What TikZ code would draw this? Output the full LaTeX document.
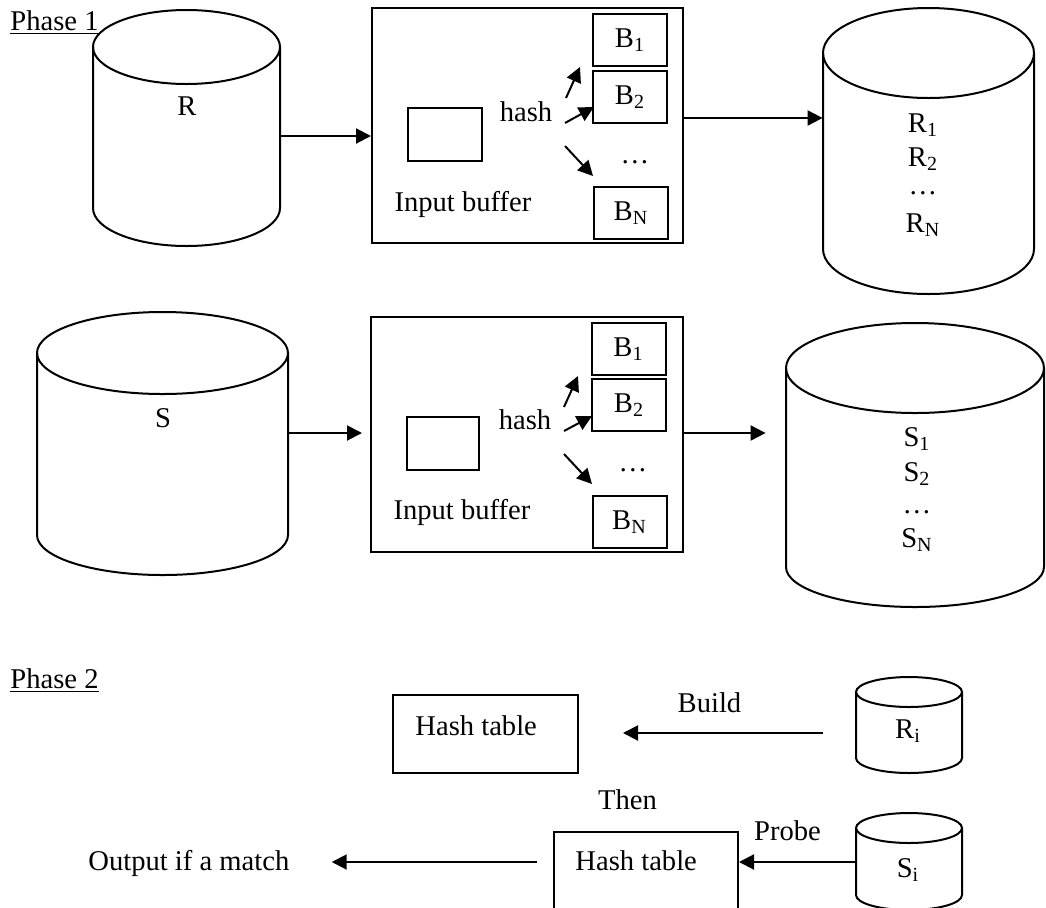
\documentclass[tikz,border=0pt]{standalone}
\usepackage{fontspec}
\setmainfont{Liberation Serif}
\usetikzlibrary{arrows.meta}
% #1 name, #2 cx, #3 top-ellipse centre y, #4 bottom-ellipse centre y, #5 rx, #6 ry top, #7 ry bottom
\newcommand\dbcyl[7]{%
  \draw[cyl] (#2-#5,-#3) -- (#2-#5,-#4) arc[start angle=180, end angle=360, x radius=#5*0.5pt, y radius=#7*0.5pt] -- (#2+#5,-#3);
  \draw[cyl] (#2,-#3) ellipse[x radius=#5*0.5pt, y radius=#6*0.5pt];
  \node[inner sep=0pt, minimum width=#5*1pt, minimum height={(#4-#3+#6+#7)*0.5pt}] (#1) at (#2,{-(#3-#6+#4+#7)/2}) {};
}
\begin{document}
\begin{tikzpicture}[x=0.5pt,y=0.5pt,
  every node/.style={font=\fontsize{14.3}{17}\selectfont, inner sep=0pt},
  cyl/.style={line width=1pt},
  boxline/.style={draw, line width=1pt},
  bbox/.style={draw, line width=1pt, minimum width=37pt, minimum height=26pt},
  arr/.style={line width=1pt, -{Triangle[length=7.5pt,width=7.5pt]}},
  txt/.style={anchor=base},
  ltxt/.style={anchor=base west}]
\useasboundingbox (0,0) rectangle (1046,-907);
\fill[white] (0,0) rectangle (1046,-907);
\clip (0,0) rectangle (1046,-907);

% ---------------- Phase 1 ----------------
\node[ltxt] (ph1) at (10,-30) {\underline{Phase 1}};

% R relation
\dbcyl{R}{186.5}{47}{208}{93.5}{37}{38}
\node[txt] (Rl) at (187,-115) {R};

% buffer 1
\node[boxline, minimum width=155.5pt, minimum height=117.5pt] (buf1) at (527.5,-125.5) {};
\node[boxline, minimum width=37pt, minimum height=26.5pt] (ib1) at (445,-134.5) {};
\node[txt] (hash1) at (526,-121) {hash};
\node[txt] (ibl1) at (463,-211) {Input buffer};
\node[bbox] (b11) at (630,-40) {B\textsubscript{1}};
\node[bbox] (b12) at (630,-97) {B\textsubscript{2}};
\node[txt] (bd1) at (635,-163) {…};
\node[bbox] (b1n) at (631,-213) {B\textsubscript{N}};
\coordinate (h1s1) at (566,-98);  \coordinate (h1e1) at (580,-67);
\coordinate (h1s2) at (565,-123); \coordinate (h1e2) at (594,-107);
\coordinate (h1s3) at (565,-146); \coordinate (h1e3) at (593,-176);
\draw[arr] (h1s1) -- (h1e1);
\draw[arr] (h1s2) -- (h1e2);
\draw[arr] (h1s3) -- (h1e3);

% partitions of R
\dbcyl{Rp}{928.5}{53}{249}{105.5}{45}{45}
\node[txt] (Rp1) at (923,-132) {R\textsubscript{1}};
\node[txt] (Rp2) at (923,-166) {R\textsubscript{2}};
\node[txt] (Rpd) at (923,-194) {…};
\node[txt] (RpN) at (923,-232) {R\textsubscript{N}};

\coordinate (yR) at (0,-136);
\coordinate (yR2) at (0,-118);
\draw[arr] (R.east |- yR) -- (buf1.west |- yR);
\draw[arr] (buf1.east |- yR2) -- (Rp.west |- yR2);

% S relation
\dbcyl{S}{162.5}{353}{535}{125.5}{41}{40}
\node[txt] (Sl) at (163,-427) {S};

% buffer 2
\node[boxline, minimum width=156pt, minimum height=117.5pt] (buf2) at (527,-434.5) {};
\node[boxline, minimum width=36pt, minimum height=26.5pt] (ib2) at (443,-443.5) {};
\node[txt] (hash2) at (525,-429) {hash};
\node[txt] (ibl2) at (462,-519) {Input buffer};
\node[bbox] (b21) at (628.5,-349) {B\textsubscript{1}};
\node[bbox] (b22) at (629,-405) {B\textsubscript{2}};
\node[txt] (bd2) at (633,-471) {…};
\node[bbox] (b2n) at (629.5,-522) {B\textsubscript{N}};
\coordinate (h2s1) at (564,-407); \coordinate (h2e1) at (578,-376);
\coordinate (h2s2) at (564,-431); \coordinate (h2e2) at (592,-416);
\coordinate (h2s3) at (564,-454); \coordinate (h2e3) at (592,-484);
\draw[arr] (h2s1) -- (h2e1);
\draw[arr] (h2s2) -- (h2e2);
\draw[arr] (h2s3) -- (h2e3);

% partitions of S
\dbcyl{Sp}{915}{368}{567}{129}{45}{40}
\node[txt] (Sp1) at (917,-446) {S\textsubscript{1}};
\node[txt] (Sp2) at (917,-481) {S\textsubscript{2}};
\node[txt] (Spd) at (917,-513) {…};
\node[txt] (SpN) at (917,-547) {S\textsubscript{N}};

\coordinate (yS) at (0,-433);
\draw[arr, shorten >=4pt] (S.east |- yS) -- (buf2.west |- yS);
\draw[arr, shorten >=10pt] (buf2.east |- yS) -- (Sp.west |- yS);

% ---------------- Phase 2 ----------------
\node[ltxt] (ph2) at (10,-688) {\underline{Phase 2}};

\node[boxline, minimum width=92.5pt, minimum height=39pt] (HT1) at (485.5,-734) {};
\node[ltxt] (HT1l) at (415,-735) {Hash table};
\node[txt] (build) at (709.5,-712) {Build};
\dbcyl{Ri}{909}{692}{758}{53}{15}{15}
\node[txt] (Ril) at (908,-738) {R\textsubscript{i}};
\coordinate (yB) at (0,-733);
\draw[arr, shorten <=16.5pt, shorten >=22pt] (Ri.west |- yB) -- (HT1.east |- yB);

\node[txt] (then) at (627.5,-809) {Then};
\node[txt] (probe) at (787.5,-840) {Probe};
\dbcyl{Si}{909}{828}{895}{53}{15}{15}
\node[txt] (Sil) at (908,-877) {S\textsubscript{i}};

\node[boxline, minimum width=92pt, minimum height=40pt] (HT2) at (646,-872) {};
\node[ltxt] (HT2l) at (575,-870) {Hash table};
\node[ltxt] (out) at (88,-870) {Output if a match};

\coordinate (yP) at (0,-862);
\draw[arr] (Si.west |- yP) -- (HT2.east |- yP);
\draw[arr, shorten <=8pt, shorten >=21pt] (HT2.west |- yP) -- (out.east |- yP);
\end{tikzpicture}
\end{document}
